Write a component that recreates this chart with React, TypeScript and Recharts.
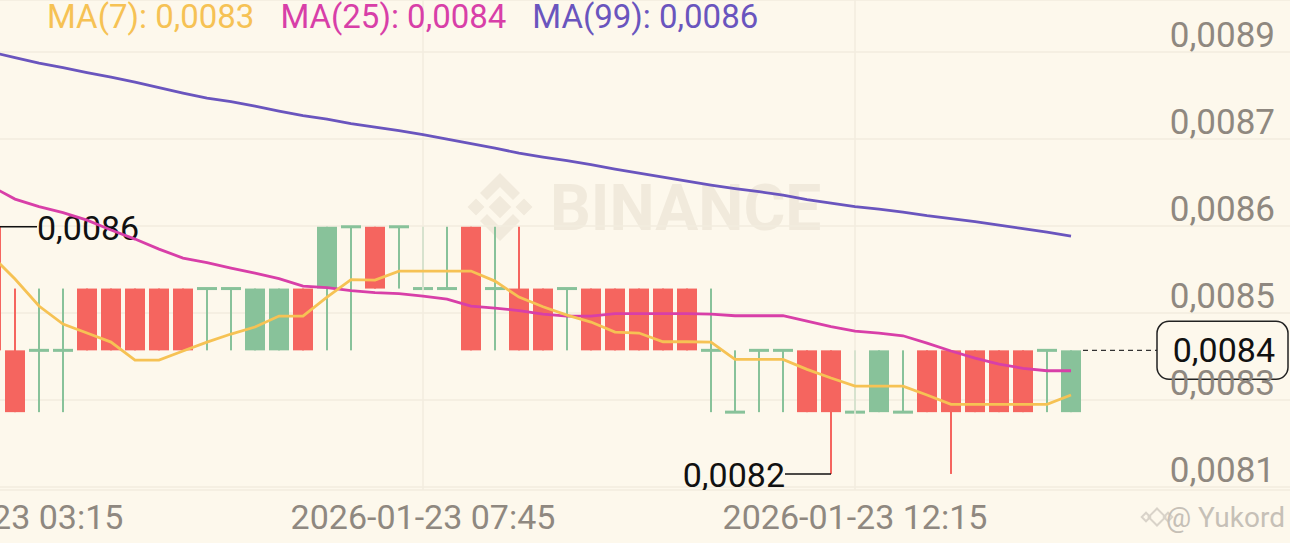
import { ComposedChart, Bar, Line, XAxis, YAxis, CartesianGrid, ReferenceLine } from "recharts";

const DAY = "2026-01-23";

// 15-minute candles, 03:15 .. 14:30
const times = [
  "03:15", "03:30", "03:45", "04:00", "04:15", "04:30", "04:45", "05:00", "05:15", "05:30",
  "05:45", "06:00", "06:15", "06:30", "06:45", "07:00", "07:15", "07:30", "07:45", "08:00",
  "08:15", "08:30", "08:45", "09:00", "09:15", "09:30", "09:45", "10:00", "10:15", "10:30",
  "10:45", "11:00", "11:15", "11:30", "11:45", "12:00", "12:15", "12:30", "12:45", "13:00",
  "13:15", "13:30", "13:45", "14:00", "14:15", "14:30",
];

const opens = [
  0.0086, 0.0084, 0.0084, 0.0084, 0.0085, 0.0085, 0.0085, 0.0085, 0.0085, 0.0085,
  0.0085, 0.0084, 0.0084, 0.0085, 0.0085, 0.0086, 0.0086, 0.0086, 0.0085, 0.0085,
  0.0086, 0.0085, 0.0085, 0.0085, 0.0085, 0.0085, 0.0085, 0.0085, 0.0085, 0.0085,
  0.0084, 0.0083, 0.0084, 0.0084, 0.0084, 0.0084, 0.0083, 0.0083, 0.0083, 0.0084,
  0.0084, 0.0084, 0.0084, 0.0084, 0.0084, 0.0083,
];
const highs = [
  0.0086, 0.0085, 0.0085, 0.0085, 0.0085, 0.0085, 0.0085, 0.0085, 0.0085, 0.0085,
  0.0085, 0.0085, 0.0085, 0.0085, 0.0086, 0.0086, 0.0086, 0.0086, 0.0086, 0.0086,
  0.0086, 0.0086, 0.0086, 0.0085, 0.0085, 0.0085, 0.0085, 0.0085, 0.0085, 0.0085,
  0.0085, 0.0084, 0.0084, 0.0084, 0.0084, 0.0084, 0.0084, 0.0084, 0.0084, 0.0084,
  0.0084, 0.0084, 0.0084, 0.0084, 0.0084, 0.0084,
];
const lows = [
  0.0084, 0.0083, 0.0083, 0.0083, 0.0084, 0.0084, 0.0084, 0.0084, 0.0084, 0.0084,
  0.0084, 0.0084, 0.0084, 0.0084, 0.0084, 0.0084, 0.0085, 0.0085, 0.0085, 0.0085,
  0.0084, 0.0084, 0.0084, 0.0084, 0.0084, 0.0084, 0.0084, 0.0084, 0.0084, 0.0084,
  0.0083, 0.0083, 0.0083, 0.0083, 0.0083, 0.0082, 0.0083, 0.0083, 0.0083, 0.0083,
  0.0082, 0.0083, 0.0083, 0.0083, 0.0083, 0.0083,
];
const closes = [
  0.0084, 0.0083, 0.0084, 0.0084, 0.0084, 0.0084, 0.0084, 0.0084, 0.0084, 0.0085,
  0.0085, 0.0085, 0.0085, 0.0084, 0.0086, 0.0086, 0.0085, 0.0086, 0.0085, 0.0085,
  0.0084, 0.0085, 0.0084, 0.0084, 0.0085, 0.0084, 0.0084, 0.0084, 0.0084, 0.0084,
  0.0084, 0.0083, 0.0084, 0.0084, 0.0083, 0.0083, 0.0083, 0.0084, 0.0083, 0.0083,
  0.0083, 0.0083, 0.0083, 0.0083, 0.0084, 0.0084,
];

const ma7 = [
  0.0085542, 0.0085154, 0.0084717, 0.0084426, 0.008428, 0.0084134, 0.0083843, 0.0083843, 0.0083989, 0.0084134,
  0.0084264, 0.0084377, 0.0084555, 0.0084555, 0.0084862, 0.0085146, 0.0085138, 0.0085283, 0.0085283, 0.0085283,
  0.0085283, 0.0085121, 0.0084862, 0.0084705, 0.0084571, 0.0084458, 0.0084296, 0.008428, 0.0084139, 0.0084139,
  0.0084134, 0.0083854, 0.0083854, 0.0083854, 0.0083693, 0.0083552, 0.0083422, 0.0083422, 0.0083422, 0.0083277,
  0.0083126, 0.0083126, 0.0083126, 0.0083126, 0.0083126, 0.0083277,
];
const ma25 = [
  0.0086658, 0.0086448, 0.0086327, 0.008623, 0.0086108, 0.0085947, 0.0085801, 0.0085639, 0.0085493, 0.0085421,
  0.0085332, 0.0085251, 0.0085162, 0.008504, 0.0085016, 0.0084968, 0.0084935, 0.0084919, 0.0084879, 0.008483,
  0.0084717, 0.0084684, 0.0084644, 0.0084587, 0.0084555, 0.0084555, 0.0084595, 0.0084595, 0.0084595, 0.0084595,
  0.0084587, 0.008456, 0.008456, 0.008456, 0.0084474, 0.0084385, 0.0084312, 0.008428, 0.0084236, 0.0084118,
  0.0083989, 0.0083875, 0.0083778, 0.0083709, 0.008367, 0.008367,
];
const ma99 = [
  0.0088827, 0.0088738, 0.0088649, 0.0088576, 0.0088495, 0.0088422, 0.0088341, 0.0088252, 0.0088163, 0.0088082,
  0.0088026, 0.0087953, 0.0087872, 0.0087799, 0.0087743, 0.008767, 0.0087613, 0.0087556, 0.0087492, 0.0087419,
  0.0087346, 0.0087273, 0.0087192, 0.0087128, 0.0087071, 0.0087006, 0.0086934, 0.0086869, 0.0086804, 0.0086739,
  0.0086675, 0.0086618, 0.0086569, 0.0086513, 0.008644, 0.0086383, 0.0086327, 0.0086286, 0.0086238, 0.0086181,
  0.0086133, 0.0086084, 0.0086027, 0.0085971, 0.0085914, 0.0085849,
];

const yTicks = [0.0081788, 0.0083196, 0.0084604, 0.0086011, 0.0087419, 0.0088827];
const yTickLabels = ["0,0081", "0,0083", "0,0085", "0,0086", "0,0087", "0,0089"];
const yDomain = [0.008174, 0.008967];

const BG = "#FDF8EC";
const GRID = "#F2ECDF";
const GREEN = "#88C29A";
const RED = "#F5655F";
const C_MA7 = "#F6C254";
const C_MA25 = "#D83FA8";
const C_MA99 = "#6A55BE";
const AXIS_TEXT = "#8F8880";
const FONT = "Roboto, sans-serif";

const W = 1290;
const H = 543;
const SHIFT = 21; // first candle is half off the left edge
const CHART_W = W + SHIFT;
const BAND = 24;

const data = times.map((t, i) => ({
  time: t,
  open: opens[i],
  high: highs[i],
  low: lows[i],
  close: closes[i],
  ma7: ma7[i],
  ma25: ma25[i],
  ma99: ma99[i],
}));

const fmt = (v: number) => v.toFixed(4).replace(".", ",");

const highIdx = highs.indexOf(Math.max(...highs));
const lowIdx = lows.indexOf(Math.min(...lows));
const lastIdx = data.length - 1;

function Candle(props: any) {
  const { x, y, width, height, payload, index } = props;
  const { open, high, low, close } = payload;
  const color = close >= open ? GREEN : RED;
  const perUnit = height / (high - low);
  const py = (p: number) => y + (high - p) * perUnit;
  const cx = x + width / 2;
  const top = py(Math.max(open, close));
  const bottom = py(Math.min(open, close));
  const bodyH = bottom - top;

  // high / low callout: short leader line and the price
  const marker = (val: number, my: number) => {
    const toRight = index < data.length / 2;
    const ex = toRight ? cx + 46 : cx - 46;
    return (
      <g>
        <line x1={cx} y1={my} x2={ex} y2={my} stroke="#111" strokeWidth={1.5} />
        <text
          x={ex}
          y={my + 13}
          textAnchor={toRight ? "start" : "end"}
          fontSize={34}
          fontFamily={FONT}
          fill="#111"
        >
          {fmt(val)}
        </text>
      </g>
    );
  };

  // last price: dashed line to a rounded tag on the price scale
  const priceTag = () => {
    const cy = py(close);
    const boxLeft = cx + 86;
    return (
      <g>
        <line x1={x + width + 2} y1={cy} x2={boxLeft} y2={cy} stroke="#333" strokeWidth={1.3} strokeDasharray="5 4" />
        <rect x={boxLeft} y={cy - 29} width={131} height={58} rx={12} fill={BG} stroke="#222" strokeWidth={1.5} />
        <text x={cx + 204} y={cy + 12} textAnchor="end" fontSize={34} fontFamily={FONT} fill="#111">
          {fmt(close)}
        </text>
      </g>
    );
  };

  return (
    <g>
      <rect x={cx - 1} y={y} width={2} height={height} fill={color} />
      {bodyH < 1 ? (
        <rect x={x} y={top - 1.5} width={width} height={3} fill={color} />
      ) : (
        <rect x={x} y={top} width={width} height={bodyH} fill={color} />
      )}
      {index === highIdx && marker(high, y)}
      {index === lowIdx && marker(low, y + height)}
      {index === lastIdx && priceTag()}
    </g>
  );
}

function XTick({ x, y, payload }: any) {
  return (
    <text x={x} y={y + 39} textAnchor="middle" fontSize={34} fontFamily={FONT} fill={AXIS_TEXT}>
      {`${DAY} ${payload.value}`}
    </text>
  );
}

function YTick({ y, payload }: any) {
  let k = 0;
  yTicks.forEach((t, i) => {
    if (Math.abs(t - payload.value) < Math.abs(yTicks[k] - payload.value)) k = i;
  });
  return (
    <text x={CHART_W - 15} y={y - 5} textAnchor="end" fontSize={35} fontFamily={FONT} fill={AXIS_TEXT}>
      {yTickLabels[k]}
    </text>
  );
}

function Watermark() {
  const c = "#F1EADC";
  return (
    <svg width={W} height={H} style={{ position: "absolute", left: 0, top: 0 }}>
      <g fill={c} transform="translate(500 207)">
        <rect x={-8} y={-8} width={16} height={16} transform="rotate(45)" />
        <rect x={-6} y={-6} width={12} height={12} transform="translate(-24 0) rotate(45)" />
        <rect x={-6} y={-6} width={12} height={12} transform="translate(24 0) rotate(45)" />
        <path d="M0 -34 L20 -14 L13 -7 L0 -20 L-13 -7 L-20 -14 Z" />
        <path d="M0 34 L20 14 L13 7 L0 20 L-13 7 L-20 14 Z" />
      </g>
      <text x={550} y={230} fontSize={64} fontWeight={700} fontFamily={FONT} fill={c}>
        BINANCE
      </text>
      <g fill="none" stroke="#D9D3C9" strokeWidth={2} transform="translate(1157 517)">
        <rect x={-6} y={-6} width={12} height={12} transform="rotate(45)" />
        <rect x={-3} y={-3} width={6} height={6} transform="translate(-11 0) rotate(45)" />
        <rect x={-3} y={-3} width={6} height={6} transform="translate(11 0) rotate(45)" />
      </g>
      <text x={1285} y={527} textAnchor="end" fontSize={28} fontFamily={FONT} fill="#C6C0B7">
        @ Yukord
      </text>
    </svg>
  );
}

const legendItems = [
  { label: "MA(7)", value: ma7[ma7.length - 1], color: C_MA7 },
  { label: "MA(25)", value: ma25[ma25.length - 1], color: C_MA25 },
  { label: "MA(99)", value: ma99[ma99.length - 1], color: C_MA99 },
];

export default function App() {
  return (
    <div
      style={{
        position: "fixed",
        left: 0,
        top: 0,
        width: W,
        height: H,
        overflow: "hidden",
        background: BG,
        fontFamily: FONT,
      }}
    >
      <Watermark />
      <div style={{ position: "absolute", left: -SHIFT, top: 0 }}>
        <ComposedChart width={CHART_W} height={H} data={data} margin={{ top: 0, right: 0, bottom: 0, left: 0 }}>
          <CartesianGrid stroke={GRID} strokeWidth={1.5} vertical={false} />
          <XAxis
            dataKey="time"
            type="category"
            interval={17}
            padding={{ left: 0, right: CHART_W - data.length * BAND }}
            axisLine={false}
            tickLine={false}
            tickSize={0}
            tickMargin={0}
            height={53}
            tick={<XTick />}
          />
          <YAxis
            orientation="right"
            mirror
            width={60}
            type="number"
            domain={yDomain}
            ticks={yTicks}
            interval={0}
            allowDataOverflow
            axisLine={false}
            tickLine={false}
            tickSize={0}
            tickMargin={0}
            tick={(p: any) => <YTick {...p} />}
          />
          {[0, 18, 36].map((i) => (
            <ReferenceLine key={i} x={times[i]} stroke={GRID} strokeWidth={1.5} />
          ))}
          <Bar dataKey={(d: any) => [d.low, d.high]} barSize={20} shape={<Candle />} isAnimationActive={false} />
          <Line type="linear" dataKey="ma99" stroke={C_MA99} strokeWidth={2.8} dot={false} isAnimationActive={false} />
          <Line type="linear" dataKey="ma25" stroke={C_MA25} strokeWidth={2.8} dot={false} isAnimationActive={false} />
          <Line type="linear" dataKey="ma7" stroke={C_MA7} strokeWidth={2.8} dot={false} isAnimationActive={false} />
        </ComposedChart>
      </div>
      <div
        style={{
          position: "absolute",
          left: 47,
          top: 0,
          display: "flex",
          gap: 26,
          fontSize: 33,
          lineHeight: "34px",
          whiteSpace: "nowrap",
        }}
      >
        {legendItems.map((it) => (
          <span key={it.label} style={{ color: it.color }}>
            {it.label}: {fmt(it.value)}
          </span>
        ))}
      </div>
    </div>
  );
}
